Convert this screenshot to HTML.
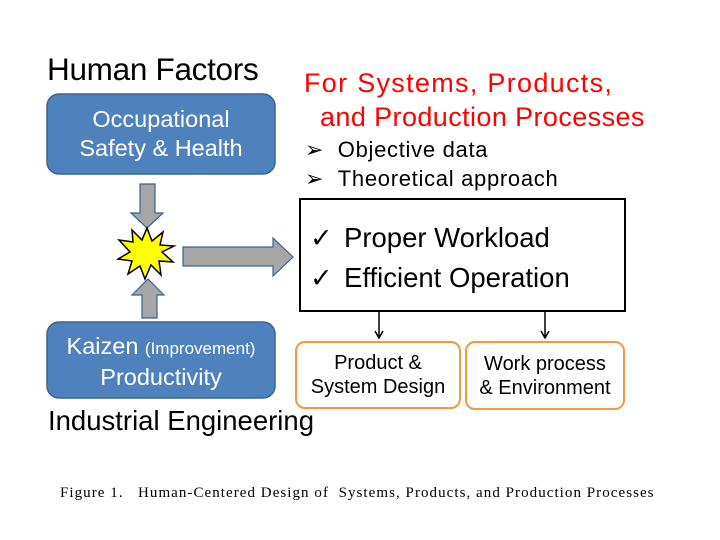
<!DOCTYPE html>
<html><head><meta charset="utf-8"><style>
body{margin:0;background:#fff;}
.wrap{position:relative;width:720px;height:540px;overflow:hidden;font-family:"Liberation Sans",Arial,sans-serif;}
.t{position:absolute;white-space:nowrap;}
</style></head><body><div class="wrap">
<svg width="720" height="540" style="position:absolute;left:0;top:0">
<rect x="47" y="94" width="228" height="80" rx="12" fill="#4f81bd" stroke="#3a6390" stroke-width="1.5"/>
<rect x="47" y="322" width="228" height="76" rx="12" fill="#4f81bd" stroke="#3a6390" stroke-width="1.5"/>
<polygon points="140,184 155,184 155,213 163,213 147,228 131,213 140,213" fill="#a6a6a6" stroke="#3a6390" stroke-width="1.2"/>
<polygon points="142,318 157,318 157,295 164,295 148,279 132,295 142,295" fill="#a6a6a6" stroke="#3a6390" stroke-width="1.2"/>
<polygon points="183,247 273,247 273,238 293,257 273,276 273,266 183,266" fill="#a6a6a6" stroke="#3a6390" stroke-width="1.2"/>
<polygon points="147,228 152,241 163,232 160,245 174,246 162,252 173,262 159,261 161,275 151,265 145,279 140,266 128,274 132,261 118,259 130,252 119,240 133,242 132,230 142,240" fill="#ffff00" stroke="#000" stroke-width="1.5"/>
<rect x="300" y="199" width="325" height="112" fill="#fff" stroke="#000" stroke-width="2"/>
<line x1="379" y1="311" x2="379" y2="337" stroke="#000" stroke-width="1.5"/>
<polyline points="375,331 379,338 383,331" fill="none" stroke="#000" stroke-width="1.5"/>
<line x1="545" y1="311" x2="545" y2="337" stroke="#000" stroke-width="1.5"/>
<polyline points="541,331 545,338 549,331" fill="none" stroke="#000" stroke-width="1.5"/>
<rect x="296" y="342" width="164" height="66" rx="9" fill="#fff" stroke="#f79646" stroke-width="2"/>
<rect x="466" y="342" width="158" height="67" rx="9" fill="#fff" stroke="#f79646" stroke-width="2"/>
</svg>
<div class="t" style="left:47px;top:51px;font-size:31.5px;letter-spacing:-0.3px;">Human Factors</div>
<div class="t" style="left:47px;top:105px;width:228px;text-align:center;color:#fff;font-size:23.5px;line-height:29px;">Occupational<br>Safety &amp; Health</div>
<div class="t" style="left:47px;top:332px;width:228px;text-align:center;color:#fff;font-size:23.5px;line-height:29px;">Kaizen <span style="font-size:17px">(Improvement)</span><br>Productivity</div>
<div class="t" style="left:48px;top:405px;font-size:27.5px;">Industrial Engineering</div>
<div class="t" style="left:304px;top:66px;color:#f00;font-size:27px;letter-spacing:1.3px;line-height:34px;">For Systems, Products,</div>
<div class="t" style="left:320px;top:100px;color:#f00;font-size:27px;letter-spacing:0.4px;line-height:34px;">and Production Processes</div>
<div class="t" style="left:305px;top:135px;font-size:22px;letter-spacing:0.7px;line-height:29px;">➢&nbsp;&nbsp;Objective data<br>➢&nbsp;&nbsp;Theoretical approach</div>
<div class="t" style="left:310px;top:218px;font-size:27px;line-height:40px;">✓<br>✓</div>
<div class="t" style="left:344px;top:218px;font-size:27.5px;line-height:40px;">Proper Workload<br>Efficient Operation</div>
<div class="t" style="left:296px;top:351px;width:164px;text-align:center;font-size:20px;line-height:24px;">Product &amp;<br>System Design</div>
<div class="t" style="left:466px;top:352px;width:158px;text-align:center;font-size:20px;line-height:24px;">Work process<br>&amp; Environment</div>
<div class="t" style="left:60px;top:485px;font-family:'Liberation Serif',serif;font-size:15px;letter-spacing:1.05px;">Figure 1.&nbsp;&nbsp; Human-Centered Design of&nbsp; Systems, Products, and Production Processes</div>
</div></body></html>
